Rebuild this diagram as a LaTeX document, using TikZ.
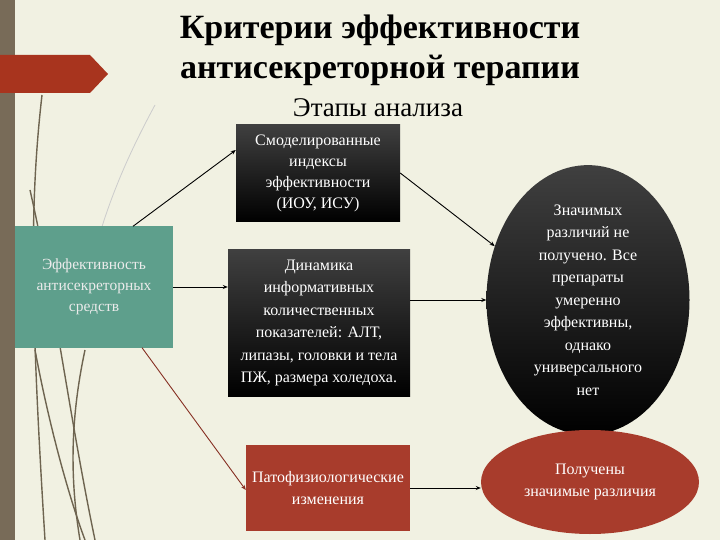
\documentclass[tikz,border=0pt]{standalone}
\usepackage{fontspec}
\setmainfont{Liberation Serif}
\usetikzlibrary{shapes.geometric,arrows.meta}
\definecolor{bgc}{HTML}{F1F1E2}
\definecolor{barc}{HTML}{786B58}
\definecolor{redc}{HTML}{A8341E}
\definecolor{greenc}{HTML}{5E9F8C}
\definecolor{boxred}{HTML}{A83C2C}
\definecolor{stemc}{HTML}{6E6450}
\tikzset{
  blackbox/.style={draw=none,top color=black!75,bottom color=black,text=white,align=center,font=\fontsize{16}{21}\selectfont,inner sep=0pt},
  conn/.style={-{Stealth[length=5pt,width=4pt]},line width=0.9pt},
  stem/.style={stemc,line width=1.4pt}
}
\begin{document}
\begin{tikzpicture}[x=1pt,y=-1pt]
\useasboundingbox (0,0) rectangle (720,540);
\fill[bgc] (0,0) rectangle (720,540);
% decorative stems
\draw[stem] (42,95) .. controls (30,200) and (30,300) .. (45,540);
\draw[stem] (30,190) .. controls (55,300) and (70,420) .. (95,540);
\draw[stem] (35,350) .. controls (50,430) and (70,500) .. (85,540);
\draw[stem] (85,350) .. controls (70,420) and (70,480) .. (80,540);
\draw[black!20,line width=0.8pt] (155,105) .. controls (120,170) and (95,230) .. (80,320);
\fill[barc] (0,0) rectangle (15,540);
\fill[redc] (0,55) -- (90,55) -- (108,74) -- (90,93) -- (0,93) -- cycle;
% title
\node[font=\bfseries\fontsize{34}{40}\selectfont,align=center] (title) at (380,50) {Критерии эффективности\\антисекреторной терапии};
\node[font=\fontsize{27}{30}\selectfont] (sub) at (378,108) {Этапы анализа};
% nodes
\node[fill=greenc,text=white!92!black,align=center,minimum width=158pt,minimum height=121pt,inner sep=0pt,font=\fontsize{15.5}{21}\selectfont] (g) at (94,287) {Эффективность\\антисекреторных\\средств};
\node[blackbox,minimum width=164pt,minimum height=97pt] (b1) at (318,173) {Смоделированные\\индексы\\эффективности\\(ИОУ, ИСУ)};
\node[blackbox,minimum width=182pt,minimum height=147pt,font=\fontsize{16}{22.5}\selectfont] (b2) at (319,323) {Динамика\\информативных\\количественных\\показателей: АЛТ,\\липазы, головки и тела\\ПЖ, размера холедоха.};
\node[fill=boxred,text=white,align=center,minimum width=164pt,minimum height=86pt,inner sep=0pt,font=\fontsize{16}{22}\selectfont] (b3) at (328,488) {Патофизиологические\\изменения};
\node[ellipse,blackbox,minimum width=203pt,minimum height=236pt,font=\fontsize{16}{22.5}\selectfont] (e1) at (588,300) {Значимых\\различий не\\получено. Все\\препараты\\умеренно\\эффективны,\\однако\\универсального\\нет};
\node[ellipse,fill=boxred,text=white,align=center,minimum width=218pt,minimum height=104pt,inner sep=0pt,font=\fontsize{16}{22}\selectfont] (e2) at (590,482) {Получены\\значимые различия};
% connectors
\coordinate (b2o) at ([yshift=23pt]b2.east);
\draw[conn] ([xshift=39pt]g.north) -- ([yshift=23pt]b1.west);
\draw[conn] (g.east) -- (g.east -| b2.west);
\draw[conn,boxred!80!black] ([xshift=48pt]g.south) -- ([yshift=-2pt]b3.west);
\draw[conn] (b1.east) -- (e1.150);
\draw[conn] (b2o) -- (e1.west |- b2o);
\draw[conn] (b3.east) -- (e2.west |- b3.east);
\end{tikzpicture}
\end{document}
